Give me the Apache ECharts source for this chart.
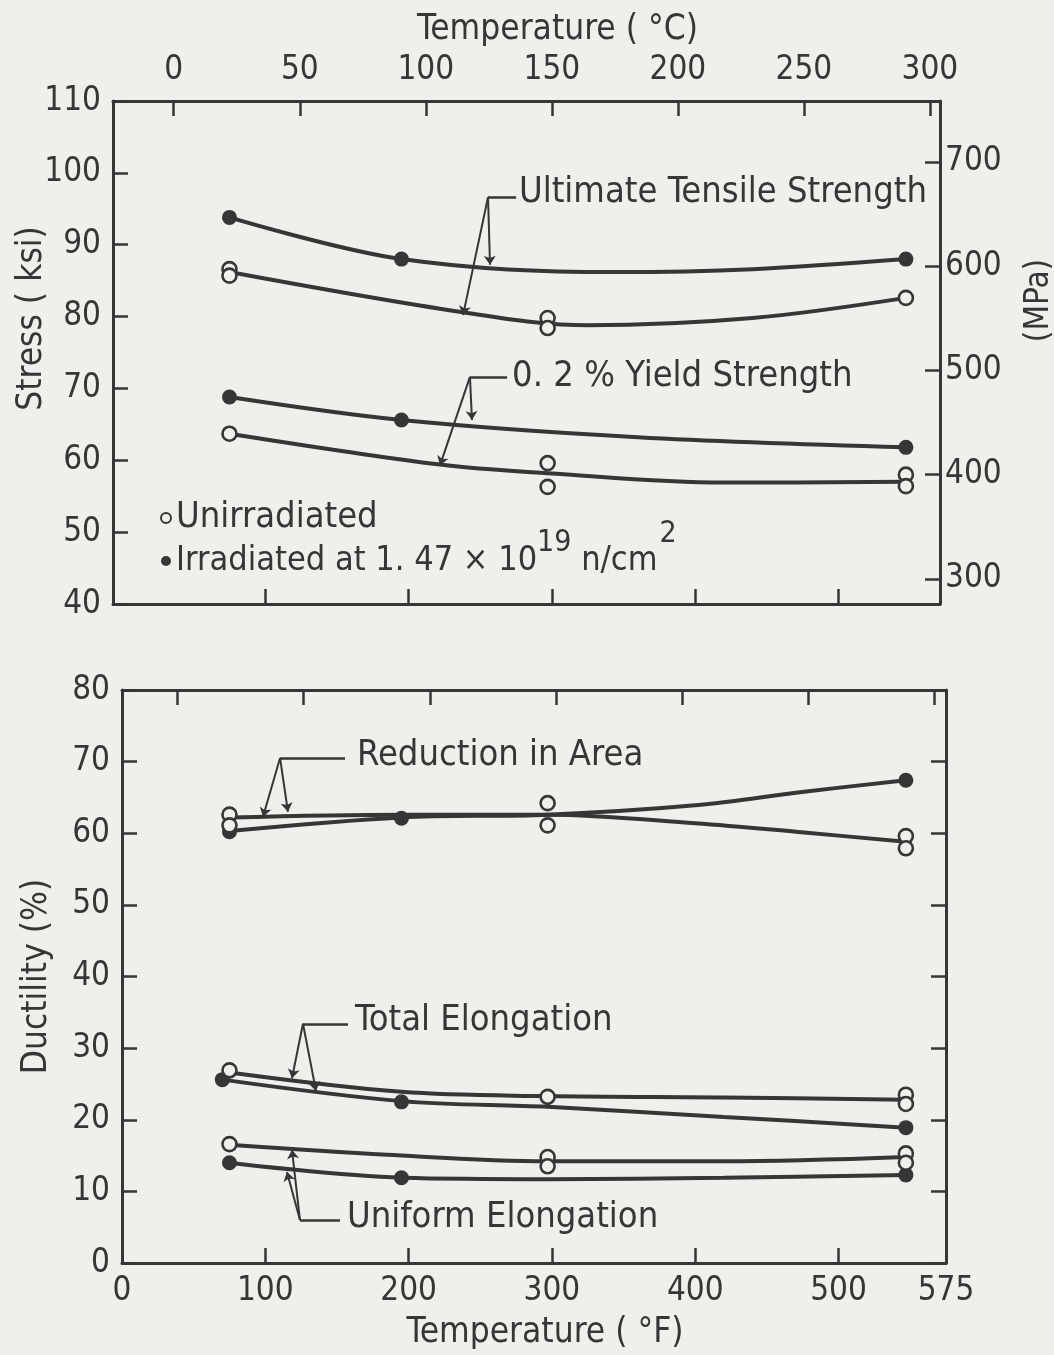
<!DOCTYPE html>
<html><head><meta charset="utf-8">
<script src="https://cdn.jsdelivr.net/npm/echarts@6/dist/echarts.min.js"></script>
<style>html,body{margin:0;padding:0;background:#efefec}#c{width:1054px;height:1355px}</style>
</head><body><div id="c"></div><script>
const FONT = '"Liberation Sans Narrow","DejaVu Sans Condensed",sans-serif';
const INK = '#363636';
const BG = '#efefec';

// ---- tick labels ----
const tempCTicks = [0, 50, 100, 150, 200, 250, 300];
const tempFLabels = [0, 100, 200, 300, 400, 500, 575];
const tempFInner = [100, 200, 300, 400, 500];
const mpaTicks = [300, 400, 500, 600, 700];
const KSI_TO_MPA = 6.895;

// ---- measured points [°F, value] ----
const utsIrr   = [[75, 93.8], [195, 88.0], [547, 88.0]];
const utsUnirr = [[75, 86.6], [75, 85.7], [297, 79.8], [297, 78.4], [547, 82.6]];
const ysIrr    = [[75, 68.8], [195, 65.6], [547, 61.8]];
const ysUnirr  = [[75, 63.7], [297, 59.6], [297, 56.3], [547, 58.0], [547, 56.4]];
const raIrr    = [[75, 60.2], [195, 62.1], [547, 67.4]];
const raUnirr  = [[75, 62.6], [75, 61.1], [297, 64.2], [297, 61.1], [547, 59.6], [547, 57.9]];
const teIrr    = [[70, 25.6], [195, 22.5], [547, 18.9]];
const teUnirr  = [[75, 26.9], [297, 23.2], [547, 23.5], [547, 22.2]];
const ueIrr    = [[75, 14.0], [195, 11.9], [547, 12.3]];
const ueUnirr  = [[75, 16.6], [297, 14.8], [297, 13.5], [547, 15.3], [547, 14.0]];

// ---- fitted curves [°F, value] ----
const utsIrrCurve   = [[75, 93.8], [195, 88.0], [344, 86.2], [440, 86.6], [547, 88.0]];
const utsUnirrCurve = [[75, 86.2], [238, 80.6], [325, 78.8], [440, 79.8], [547, 82.6]];
const ysIrrCurve    = [[75, 68.8], [195, 65.6], [360, 63.2], [547, 61.8]];
const ysUnirrCurve  = [[75, 63.7], [222, 59.4], [297, 58.2], [420, 56.9], [547, 57.0]];
const raIrrCurve    = [[75, 60.3], [195, 62.2], [297, 62.6], [400, 63.9], [476, 65.8], [547, 67.4]];
const raUnirrCurve  = [[75, 62.2], [195, 62.6], [297, 62.6], [400, 61.4], [476, 60.1], [547, 58.8]];
const teIrrCurve    = [[70, 25.6], [195, 22.6], [297, 21.8], [420, 20.4], [547, 18.9]];
const teUnirrCurve  = [[75, 26.6], [195, 23.9], [297, 23.3], [420, 23.1], [547, 22.8]];
const ueIrrCurve    = [[75, 14.0], [195, 11.9], [297, 11.7], [420, 11.9], [547, 12.3]];
const ueUnirrCurve  = [[75, 16.5], [185, 15.1], [297, 14.2], [420, 14.2], [547, 14.8]];

// ---- annotations (data coords) ----
const notes = [
  {g: 0, text: 'Ultimate Tensile Strength', at: [277, 97.2], vertex: [255.4, 96.6], hEnd: [275, 96.6], tips: [[256.8, 87.2], [238, 80.2]]},
  {g: 0, text: '0. 2 % Yield Strength', at: [272.2, 71.7], vertex: [242.8, 71.6], hEnd: [268.7, 71.6], tips: [[244.2, 65.6], [221.9, 59.3]]},
  {g: 1, text: 'Reduction in Area', at: [164, 70.8], vertex: [110.3, 70.5], hEnd: [155.6, 70.5], tips: [[98.4, 62.3], [115.8, 63.0]]},
  {g: 1, text: 'Total Elongation', at: [162.6, 33.9], vertex: [126.3, 33.4], hEnd: [157.7, 33.4], tips: [[118.6, 25.8], [135.4, 24.0]]},
  {g: 1, text: 'Uniform Elongation', at: [157, 6.3], vertex: [124.2, 6.0], hEnd: [152.1, 6.0], tips: [[118.6, 15.8], [115.1, 12.7]]}
];

const chart = echarts.init(document.getElementById('c'), null, {renderer: 'canvas'});
const lbl = {color: INK, fontFamily: FONT, fontSize: 33};
const axLine = {show: true, onZero: false, lineStyle: {color: INK, width: 3}};
const tick = (vals) => ({show: true, inside: true, length: 15, lineStyle: {color: INK, width: 2.5}, customValues: vals});
const tickStd = {show: true, inside: true, length: 15, lineStyle: {color: INK, width: 2.5}};

function curve(data, xi, yi) {
  return {type: 'line', xAxisIndex: xi, yAxisIndex: yi, data, smooth: 0.35, showSymbol: false, symbol: 'none',
    lineStyle: {color: INK, width: 4}, silent: true, z: 2};
}
function pts(name, data, xi, yi, open) {
  return {type: 'scatter', name, xAxisIndex: xi, yAxisIndex: yi, data, symbol: 'circle', symbolSize: open ? 14 : 15,
    itemStyle: open ? {color: BG, borderColor: INK, borderWidth: 2.6, opacity: 1} : {color: INK, borderColor: INK, borderWidth: 0, opacity: 1},
    z: 5, silent: true};
}
const arrowData = [[], []], segData = [[], []];
notes.forEach(n => {
  n.tips.forEach(t => arrowData[n.g].push({coords: [n.vertex, t]}));
  segData[n.g].push({coords: [n.vertex, n.hEnd]});
});
function leaders(g) {
  const xi = g === 0 ? 0 : 2, yi = g === 0 ? 0 : 2;
  return [
    {type: 'lines', coordinateSystem: 'cartesian2d', xAxisIndex: xi, yAxisIndex: yi, data: arrowData[g],
      symbol: ['none', 'arrow'], symbolSize: 9, lineStyle: {color: INK, width: 2, opacity: 1, curveness: 0}, z: 6, silent: true},
    {type: 'lines', coordinateSystem: 'cartesian2d', xAxisIndex: xi, yAxisIndex: yi, data: segData[g],
      symbol: 'none', lineStyle: {color: INK, width: 2.5, opacity: 1}, z: 6, silent: true}
  ];
}

const option = {
  backgroundColor: BG,
  animation: false,
  grid: [
    {left: 113, right: 114, top: 101, bottom: 751, containLabel: false, outerBoundsMode: 'none'},
    {left: 122, right: 108, top: 690, bottom: 92, containLabel: false, outerBoundsMode: 'none'}
  ],
  xAxis: [
    {gridIndex: 0, type: 'value', position: 'bottom', min: -6.28, max: 570.8, splitLine: {show: false},
      axisLine: axLine, axisTick: tick(tempFInner), axisLabel: {show: false}},
    {gridIndex: 0, type: 'value', position: 'top', min: -24.1, max: 304.0, splitLine: {show: false},
      axisLine: axLine, axisTick: tick(tempCTicks), axisLabel: Object.assign({customValues: tempCTicks, margin: 14}, lbl),
      name: 'Temperature ( °C)', nameLocation: 'middle', nameGap: 54, nameMoveOverlap: false,
      nameTextStyle: {color: INK, fontFamily: FONT, fontSize: 35, padding: [0, 0, 0, 62]}},
    {gridIndex: 1, type: 'value', position: 'bottom', min: 0, max: 575, splitLine: {show: false},
      axisLine: axLine, axisTick: tick(tempFInner), axisLabel: Object.assign({customValues: tempFLabels, margin: 12}, lbl),
      name: 'Temperature ( °F)', nameLocation: 'middle', nameGap: 52, nameMoveOverlap: false,
      nameTextStyle: {color: INK, fontFamily: FONT, fontSize: 35, padding: [0, 0, 0, 22]}},
    {gridIndex: 1, type: 'value', position: 'top', min: -22.1, max: 304.8, splitLine: {show: false},
      axisLine: axLine, axisTick: tick(tempCTicks), axisLabel: {show: false}}
  ],
  yAxis: [
    {gridIndex: 0, type: 'value', position: 'left', min: 40, max: 110, interval: 10, splitLine: {show: false},
      axisLine: axLine, axisTick: tickStd, axisLabel: Object.assign({margin: 12}, lbl),
      name: 'Stress ( ksi)', nameLocation: 'middle', nameGap: 64, nameRotate: 90, nameMoveOverlap: false,
      nameTextStyle: {color: INK, fontFamily: FONT, fontSize: 35, padding: [0, 0, 0, 68]}},
    {gridIndex: 0, type: 'value', position: 'right', min: 40 * KSI_TO_MPA, max: 110 * KSI_TO_MPA, splitLine: {show: false},
      axisLine: axLine, axisTick: tick(mpaTicks), axisLabel: Object.assign({customValues: mpaTicks, margin: 5}, lbl),
      name: '(MPa)', nameLocation: 'middle', nameGap: 83, nameRotate: 90, nameMoveOverlap: false,
      nameTextStyle: {color: INK, fontFamily: FONT, fontSize: 33, padding: [0, 0, 0, 104]}},
    {gridIndex: 1, type: 'value', position: 'left', min: 0, max: 80, interval: 10, splitLine: {show: false},
      axisLine: axLine, axisTick: tickStd, axisLabel: Object.assign({margin: 12}, lbl),
      name: 'Ductility (%)', nameLocation: 'middle', nameGap: 68, nameRotate: 90, nameMoveOverlap: false,
      nameTextStyle: {color: INK, fontFamily: FONT, fontSize: 35}},
    {gridIndex: 1, type: 'value', position: 'right', min: 0, max: 80, interval: 10, splitLine: {show: false},
      axisLine: axLine, axisTick: tickStd, axisLabel: {show: false}}
  ],
  legend: {
    show: true, orient: 'vertical', left: 160, top: 500, itemGap: -17, itemWidth: 10, itemHeight: 10,
    selectedMode: false, icon: 'circle', padding: 0,
    data: [
      {name: 'Unirradiated', itemStyle: {color: BG, borderColor: INK, borderWidth: 2}},
      {name: 'Irradiated', itemStyle: {color: INK}}
    ],
    formatter: n => n === 'Irradiated' ? '{t|Irradiated at 1. 47 × 10}{s|19}{t| n/cm}{s2|2}' : '{u|Unirradiated}',
    textStyle: {color: INK, fontFamily: FONT, fontSize: 36,
      rich: {
        u: {color: INK, fontFamily: FONT, fontSize: 36, lineHeight: 24},
        t: {color: INK, fontFamily: FONT, fontSize: 34, lineHeight: 84},
        s: {color: INK, fontFamily: FONT, fontSize: 30, lineHeight: 24, verticalAlign: 'top', padding: [9, 0, 0, 0]},
        s2: {color: INK, fontFamily: FONT, fontSize: 30, lineHeight: 6, verticalAlign: 'top', padding: [0, 0, 0, 2]}
      }}
  },
  series: [
    curve(utsIrrCurve, 0, 0), curve(utsUnirrCurve, 0, 0), curve(ysIrrCurve, 0, 0), curve(ysUnirrCurve, 0, 0),
    curve(raIrrCurve, 2, 2), curve(raUnirrCurve, 2, 2), curve(teIrrCurve, 2, 2), curve(teUnirrCurve, 2, 2),
    curve(ueIrrCurve, 2, 2), curve(ueUnirrCurve, 2, 2),
    pts('Irradiated', utsIrr, 0, 0, false), pts('Unirradiated', utsUnirr, 0, 0, true),
    pts('Irradiated', ysIrr, 0, 0, false), pts('Unirradiated', ysUnirr, 0, 0, true),
    pts('Irradiated', raIrr, 2, 2, false), pts('Unirradiated', raUnirr, 2, 2, true),
    pts('Irradiated', teIrr, 2, 2, false), pts('Unirradiated', teUnirr, 2, 2, true),
    pts('Irradiated', ueIrr, 2, 2, false), pts('Unirradiated', ueUnirr, 2, 2, true),
    ...leaders(0), ...leaders(1)
  ]
};
chart.setOption(option);

// annotation texts placed through the axes
const texts = notes.map(n => {
  const idx = n.g === 0 ? 0 : 2;
  const p = chart.convertToPixel({xAxisIndex: idx, yAxisIndex: idx}, n.at);
  return {type: 'text', x: p[0], y: p[1], silent: true, z: 10,
    style: {text: n.text, fill: INK, font: '36px ' + FONT, textAlign: 'left', textVerticalAlign: 'middle'}};
});
chart.setOption({graphic: texts});
</script></body></html>
